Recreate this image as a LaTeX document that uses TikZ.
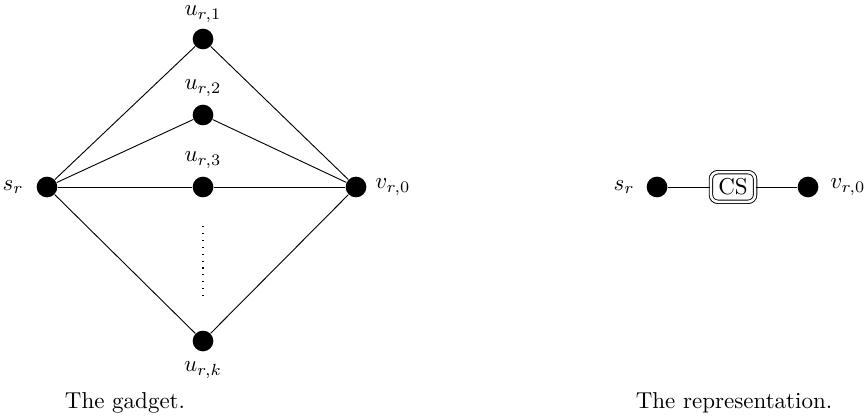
\documentclass[tikz,border=0pt]{standalone}
\begin{document}
\begin{tikzpicture}[x=0.4348pt,y=-0.4348pt,
  vtx/.style={circle,fill=black,inner sep=0pt,minimum size=9pt},
  edge/.style={line width=0.4pt},
  lbl/.style={inner sep=0pt},
  csbox/.style={draw,double,double distance=1.1pt,rounded corners=3pt,inner xsep=3.2pt,inner ysep=2.8pt,line width=0.4pt}]
\useasboundingbox (0,0) rectangle (867,416);
% gadget
\node[vtx] (s) at (47,187) {};
\node[vtx] (u1) at (203,39) {};
\node[vtx] (u2) at (203,115) {};
\node[vtx] (u3) at (203,187) {};
\node[vtx] (uk) at (203,341) {};
\node[vtx] (v) at (356,187) {};
\node[lbl,anchor=east] (ls) at (24,187) {$s_r$};
\node[lbl] (lu1) at (203,14) {$u_{r,1}$};
\node[lbl] (lu2) at (203,88) {$u_{r,2}$};
\node[lbl] (lu3) at (203,160) {$u_{r,3}$};
\node[lbl] (luk) at (203,370) {$u_{r,k}$};
\node[lbl,anchor=west] (lv) at (375,187) {$v_{r,0}$};
\draw[edge] (s) -- (u1) -- (v);
\draw[edge] (s) -- (u2) -- (v);
\draw[edge] (s) -- (u3) -- (v);
\draw[edge] (s) -- (uk) -- (v);
\coordinate (d1) at (203,226);
\coordinate (d2) at (203,300);
\draw[line width=0.6pt,dash pattern=on 0.5pt off 2.5pt] (d1) -- (d2);
\node[lbl] (cap1) at (125,403) {The gadget.};
% representation
\node[vtx] (s2) at (657,187) {};
\node[csbox] (cs) at (733,187) {CS};
\node[vtx] (v2) at (808,187) {};
\node[lbl,anchor=east] (ls2) at (635,187) {$s_r$};
\node[lbl,anchor=west] (lv2) at (830,187) {$v_{r,0}$};
\draw[edge] (s2) -- (cs) -- (v2);
\node[lbl] (cap2) at (734,403) {The representation.};
\end{tikzpicture}
\end{document}
